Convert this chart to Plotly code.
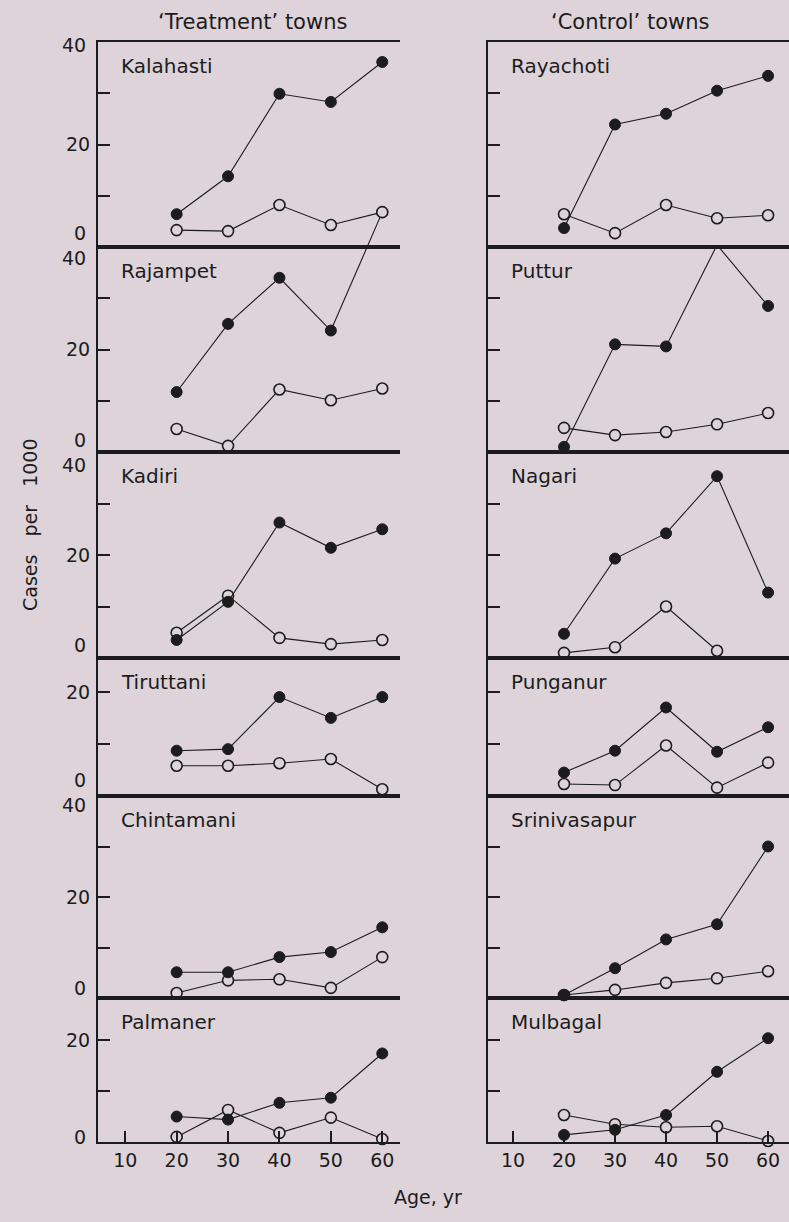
import plotly.graph_objects as go

ages = [20, 30, 40, 50, 60]

# Treatment towns (left column), top to bottom
treat_names = ["Kalahasti", "Rajampet", "Kadiri", "Tiruttani", "Chintamani", "Palmaner"]
treat_filled = [
    [6.4, 13.8, 29.9, 28.3, 36.1],
    [11.7, 25.0, 34.0, 23.7, 46.8],
    [3.5, 10.9, 26.3, 21.4, 25.0],
    [8.7, 9.0, 19.0, 15.0, 19.0],
    [5.1, 5.1, 8.1, 9.1, 14.0],
    [5.0, 4.4, 7.7, 8.7, 17.4],
]
treat_open = [
    [3.3, 3.1, 8.2, 4.3, 6.8],
    [4.5, 1.2, 12.2, 10.1, 12.4],
    [4.9, 12.1, 3.9, 2.7, 3.5],
    [5.8, 5.8, 6.3, 7.1, 1.3],
    [1.0, 3.5, 3.7, 2.0, 8.1],
    [1.0, 6.3, 1.8, 4.8, 0.6],
]

# Control towns (right column), top to bottom
ctrl_names = ["Rayachoti", "Puttur", "Nagari", "Punganur", "Srinivasapur", "Mulbagal"]
ctrl_filled = [
    [3.7, 23.9, 26.0, 30.5, 33.4],
    [1.0, 21.0, 20.6, 40.4, 28.5],
    [4.7, 19.3, 24.2, 35.3, 12.7],
    [4.5, 8.7, 17.0, 8.5, 13.2],
    [0.6, 5.9, 11.6, 14.6, 30.0],
    [1.4, 2.4, 5.3, 13.8, 20.4],
]
ctrl_open = [
    [6.4, 2.7, 8.2, 5.6, 6.2],
    [4.7, 3.3, 3.9, 5.4, 7.6],
    [1.0, 2.1, 10.0, 1.4, None],
    [2.3, 2.1, 9.7, 1.6, 6.4],
    [0.6, 1.6, 3.0, 3.9, 5.3],
    [5.3, 3.5, 2.9, 3.1, 0.2],
]

row_ymax = [40, 40, 40, 26.5, 40, 28.3]
x_ticks = [10, 20, 30, 40, 50, 60]
col_titles = ["\u2018Treatment\u2019 towns", "\u2018Control\u2019 towns"]

# ---------------- layout geometry ----------------
W, H = 789, 1222
ML, MR, MT, MB = 98, 0, 42, 80
PW = W - ML - MR
PH = H - MT - MB
row_px = [42, 247, 452, 658, 796, 998, 1142]
col_px = [(98, 400), (488, 789)]
title_cx = [252, 630]
x_ranges = [[4.7, 63.45], [5.1, 64.1]]

BG = "#ddd3d9"
INK = "#1c1c1c"
FONT = "DejaVu Sans"


def ydom(r):
    return [(row_px[-1] - row_px[r + 1]) / PH, (row_px[-1] - row_px[r]) / PH]


def xdom(c):
    return [(col_px[c][0] - ML) / PW, (col_px[c][1] - ML) / PW]


fig = go.Figure()
layout = dict(
    width=W, height=H,
    margin=dict(l=ML, r=MR, t=MT, b=MB),
    paper_bgcolor=BG, plot_bgcolor="rgba(0,0,0,0)",
    showlegend=False,
    font=dict(family=FONT, color=INK, size=18),
)
annotations = []

# extended axis (spanning rows 1-2, left) for the Rajampet filled series, whose
# last point rises above its own panel
layout["xaxis"] = dict(domain=xdom(0), range=x_ranges[0], visible=False, anchor="y")
layout["yaxis"] = dict(domain=[ydom(1)[0], ydom(0)[1]], range=[0, 80], visible=False, anchor="x")

filled_marker = dict(size=11, color=INK, line=dict(color=INK, width=1))
open_marker = dict(size=11, color=BG, line=dict(color=INK, width=1.6))

fig.add_trace(go.Scatter(x=ages, y=treat_filled[1], xaxis="x", yaxis="y",
                         mode="lines+markers", line=dict(color=INK, width=1.1),
                         marker=filled_marker, cliponaxis=False))

zero_shift = [14, 12, 13, 16, 10, 5]
top_shift = [-3, -11, -13, None, -9, None]

for c in range(2):
    names = treat_names if c == 0 else ctrl_names
    filled = treat_filled if c == 0 else ctrl_filled
    opens = treat_open if c == 0 else ctrl_open
    for r in range(6):
        n = 2 + r * 2 + c
        xa, ya = f"xaxis{n}", f"yaxis{n}"
        xs, ys = f"x{n}", f"y{n}"
        bottom = r == 5
        layout[xa] = dict(
            domain=xdom(c), range=x_ranges[c], anchor=ys,
            showline=True, linecolor=INK, linewidth=2, mirror=True,
            showgrid=False, zeroline=False,
            tickvals=x_ticks if bottom else [],
            ticks="inside" if bottom else "", ticklen=11, tickwidth=1.5, tickcolor=INK,
            showticklabels=bottom, tickfont=dict(size=19, family=FONT, color=INK),
        )
        ymax = row_ymax[r]
        yt = [v for v in [10, 20, 30] if v < ymax - 1]
        layout[ya] = dict(
            domain=ydom(r), range=[0, ymax], anchor=xs,
            showline=True, linecolor=INK, linewidth=2,
            showgrid=False, zeroline=False,
            tickvals=yt, ticktext=["20" if v == 20 else "" for v in yt],
            ticks="inside", ticklen=12, tickwidth=1.5, tickcolor=INK,
            showticklabels=(c == 0), tickfont=dict(size=19, family=FONT, color=INK),
            ticklabelstandoff=2,
        )
        # open circles first, filled on top
        fig.add_trace(go.Scatter(x=ages, y=opens[r], xaxis=xs, yaxis=ys,
                                 mode="lines+markers", line=dict(color=INK, width=1.1),
                                 marker=open_marker, cliponaxis=False))
        if not (c == 0 and r == 1):
            fig.add_trace(go.Scatter(x=ages, y=filled[r], xaxis=xs, yaxis=ys,
                                     mode="lines+markers", line=dict(color=INK, width=1.1),
                                     marker=filled_marker, cliponaxis=False))
        # town label
        annotations.append(dict(text=names[r], xref=f"{xs} domain", yref=f"{ys} domain",
                                x=0, y=1, xanchor="left", yanchor="middle",
                                xshift=21, yshift=-24, showarrow=False,
                                font=dict(size=20, family=FONT, color=INK)))
        if c == 0:
            annotations.append(dict(text="0", xref=f"{xs} domain", yref=ys, x=0, y=0,
                                    xanchor="right", yanchor="middle", xshift=-10,
                                    yshift=zero_shift[r], showarrow=False,
                                    font=dict(size=19, family=FONT, color=INK)))
            if top_shift[r] is not None:
                annotations.append(dict(text="40", xref=f"{xs} domain", yref=ys, x=0, y=40,
                                        xanchor="right", yanchor="middle", xshift=-10,
                                        yshift=top_shift[r], showarrow=False,
                                        font=dict(size=19, family=FONT, color=INK)))

# column titles
for c in range(2):
    annotations.append(dict(text=col_titles[c], xref="paper", yref="paper",
                            x=(title_cx[c] - ML) / PW,
                            y=1, yshift=20, xanchor="center", yanchor="middle",
                            showarrow=False, font=dict(size=21, family=FONT, color=INK)))

annotations.append(dict(text="Age, yr", xref="paper", yref="paper",
                        x=(428 - ML) / PW, y=0, yshift=-55, xanchor="center", yanchor="middle",
                        showarrow=False, font=dict(size=19, family=FONT, color=INK)))
annotations.append(dict(text="Cases\u00a0\u00a0\u00a0per\u00a0\u00a0\u00a01000", xref="paper", yref="paper",
                        x=0, xshift=-68, y=(row_px[-1] - 525) / PH, textangle=-90,
                        xanchor="center", yanchor="middle",
                        showarrow=False, font=dict(size=19, family=FONT, color=INK)))

layout["annotations"] = annotations
fig.update_layout(**layout)
fig.write_html("out.html", config={"displayModeBar": False},
               post_script="document.body.style.margin='0';document.body.style.background='%s';" % BG)
